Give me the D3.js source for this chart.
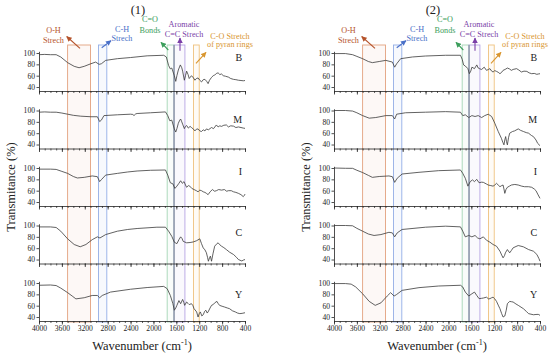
<!DOCTYPE html>
<html>
<head>
<meta charset="utf-8">
<script src="https://cdn.jsdelivr.net/npm/d3@7"></script>
<style>
  body { margin: 0; background: #fff; }
  svg { display: block; font-family: "Liberation Serif", "DejaVu Serif", serif; }
</style>
</head>
<body>
<script>
// sample names and tick labels
const samples = ["B", "M", "I", "C", "Y"];
const panelTitles = ["(1)", "(2)"];
const wavenumberTicks = [4000, 3600, 3200, 2800, 2400, 2000, 1600, 1200, 800, 400];
const transTicks = [40, 60, 80, 100];

// highlighted regions (cm-1)
const bandNames = ["O-H", "C-H", "C=O", "Aromatic", "C-O"];
const bandFrom = [3500, 2960, 1760, 1640, 1300];
const bandTo = [3100, 2815, 1640, 1450, 1200];
const bandLabels = [["O-H", "Strech"], ["C-H", "Strech"], ["C=O", "Bonds"], ["Aromatic", "C=C Strech"], ["C-O Stretch", "of pyran rings"]];

// spectra [wavenumber, transmittance %], panel (1)
const p1B = [[4000,97],[3900,97.5],[3800,97],[3700,97],[3620,93],[3500,83],[3385,76.5],[3300,74],[3210,76.5],[3095,81],[3010,84],[2950,80],[2910,81],[2835,87],[2630,90],[2400,92],[2110,95],[1820,96],[1775,93],[1735,78],[1705,72],[1680,73.5],[1635,60],[1610,50],[1590,60],[1565,70],[1530,79],[1505,74],[1490,68],[1460,52],[1440,60],[1420,68],[1395,62],[1375,55],[1335,60],[1300,56],[1275,52],[1250,55],[1220,56],[1190,52],[1160,49],[1130,53],[1100,53.5],[1070,50],[1045,46],[1020,52],[985,57],[955,60],[930,61],[900,64],[870,65],[840,62],[810,63],[780,60],[740,59],[690,57.5],[650,55],[600,53.5],[560,53],[515,52],[470,51.5],[430,51],[400,51.5]];
const p1M = [[4000,97],[3900,97.5],[3800,97],[3700,97],[3600,95.5],[3500,93.5],[3400,91.5],[3270,90],[3095,89],[2980,89],[2940,80.5],[2910,83],[2865,91],[2630,92.4],[2400,93.5],[2360,93],[2340,91],[2310,94],[2285,94.7],[2050,96],[1790,97.5],[1750,91],[1715,82],[1680,83],[1635,67.5],[1610,62],[1590,68],[1565,77.5],[1540,83],[1525,85],[1505,80],[1490,76],[1460,68],[1440,72],[1420,73.5],[1390,69],[1360,72],[1335,70],[1300,67],[1275,64],[1250,67],[1220,67.5],[1190,64],[1160,63],[1130,66],[1100,64],[1075,67.5],[1040,66],[985,70],[950,68],[900,74.5],[870,71],[840,73],[810,72],[770,74],[725,74.5],[690,71],[650,73],[600,72.4],[560,70],[515,71],[470,70],[430,69],[400,68.5]];
const p1I = [[4000,98],[3800,98],[3700,97.5],[3600,94],[3500,90.5],[3400,85],[3330,82.4],[3210,83.5],[3070,86],[2980,84.7],[2940,76],[2905,80],[2835,87.5],[2630,90.5],[2450,93],[2285,94.7],[2050,96],[1790,96.5],[1750,87.5],[1705,74],[1660,72],[1625,64],[1590,68],[1555,73],[1525,77.5],[1495,73],[1465,76],[1440,70],[1420,66],[1390,69],[1365,68],[1330,64],[1290,62],[1250,60],[1220,58],[1190,61],[1160,60],[1130,58],[1100,57],[1070,55],[1045,53],[1010,58],[970,62],[930,59],[900,60],[860,62],[810,61],[760,62],[720,59],[690,60],[640,60],[600,58],[560,57],[515,55.3],[470,53],[430,49.5],[410,52],[400,54]];
const p1C = [[4000,97.5],[3800,97.5],[3700,96.5],[3620,90],[3500,76.5],[3385,66.5],[3280,62.5],[3180,66.5],[3070,75],[2980,80],[2935,78],[2835,84],[2630,90],[2450,93],[2285,94.7],[1940,97],[1790,97],[1735,90],[1680,81],[1635,70.5],[1590,68],[1555,75],[1525,80],[1500,77],[1480,72],[1420,69.5],[1360,70],[1305,71],[1250,73],[1190,76.5],[1160,68],[1130,60.5],[1100,57],[1075,52],[1055,44],[1040,37],[1020,43],[1005,46],[985,37],[960,50],[930,63.5],[900,67],[870,69.5],[840,66],[810,63.5],[770,61],[725,57.5],[670,53],[600,48.8],[550,44],[515,40],[470,38],[455,37.5],[430,39],[400,40]];
const p1Y = [[4000,96],[3800,96.5],[3700,95.5],[3620,91],[3500,83],[3420,77],[3355,72],[3210,74],[3070,78],[2980,78],[2940,74],[2895,78],[2750,84],[2400,89],[2110,92],[1820,94],[1760,90],[1705,78],[1660,63.5],[1635,52],[1610,56],[1590,60.6],[1555,69],[1525,63.5],[1490,71],[1470,66],[1455,60.6],[1420,66.5],[1395,64],[1375,62],[1335,63.5],[1310,60],[1290,54.7],[1245,49],[1220,40],[1200,46],[1180,49],[1155,42],[1130,44],[1105,50],[1085,52],[1060,47],[1045,49],[1010,56],[985,60.6],[955,62],[930,65],[890,67.6],[870,64],[845,60.6],[800,59],[755,57.6],[710,56],[670,54.7],[620,51],[570,49],[530,47],[490,46],[450,46.5],[400,47.6]];

// panel (2)
const p2B = [[4000,99],[3800,99],[3675,97],[3600,94],[3500,90],[3400,85],[3330,83],[3210,85],[3095,87],[2980,84],[2940,75],[2905,81],[2835,90],[2630,93],[2400,94.7],[2050,96],[1790,96],[1760,89],[1735,79],[1705,77],[1660,72.4],[1635,63.5],[1610,68],[1590,75],[1545,72.4],[1505,79],[1480,73.5],[1450,72],[1420,71],[1375,75],[1335,69.4],[1300,71],[1275,72.4],[1245,68],[1220,66.5],[1190,69],[1160,67.6],[1130,66],[1100,63.5],[1070,66],[1045,69.4],[1010,71],[970,73.5],[935,72],[900,69.4],[870,71],[810,72.4],[770,70],[725,66.5],[680,68],[630,67.6],[590,65],[545,63.5],[500,64],[455,62.4],[430,63],[400,63.5]];
const p2M = [[4000,100],[3800,100],[3675,99],[3600,96],[3500,91],[3385,86.5],[3270,87.6],[3095,91],[2980,91],[2940,85],[2905,93.5],[2750,96],[2400,97],[2050,98],[1790,97],[1750,91],[1705,92.4],[1645,87.6],[1590,91],[1535,89.4],[1480,91],[1420,87.6],[1365,91],[1305,93.5],[1245,89.4],[1190,77.6],[1130,63],[1075,51],[1050,44],[1030,39.4],[1015,48],[1000,54],[985,45],[970,39.4],[950,52],[930,60],[880,63],[845,64],[780,67.6],[740,65],[690,63],[640,61],[600,60],[550,56],[515,54],[470,48],[440,42],[400,38]];
const p2I = [[4000,100],[3800,99.5],[3675,99.4],[3600,96],[3500,92],[3400,87],[3330,83.5],[3210,85],[3040,86],[2980,84.7],[2940,74.7],[2895,82],[2810,89.4],[2515,92.4],[2170,95.3],[1790,96.5],[1750,90.6],[1705,81.8],[1660,68],[1620,76],[1580,79],[1545,76],[1505,80],[1465,74],[1420,75],[1390,74.7],[1340,72],[1305,70],[1260,69],[1220,68],[1190,70],[1160,73],[1130,70],[1100,67],[1070,69],[1045,70],[1030,63],[1015,55.3],[995,62],[970,66],[935,68],[900,70],[840,71],[780,70],[720,68],[670,67],[600,67],[545,66],[500,63],[470,60],[440,54],[400,46.5]];
const p2C = [[4000,100],[3800,100],[3675,99.5],[3600,95],[3500,90],[3400,85],[3300,82.4],[3180,84],[3040,88],[2980,87],[2940,80],[2895,87],[2810,93],[2400,97],[2050,98.8],[1790,97.6],[1750,90],[1705,80],[1645,82.4],[1590,80],[1535,82.4],[1490,78],[1450,76.5],[1390,80],[1335,74],[1275,70.6],[1220,66.5],[1160,63.5],[1100,54.7],[1070,48],[1045,43],[1020,47],[1005,51.8],[970,57.6],[930,51.8],[900,56],[870,60.6],[820,63],[780,64.7],[690,62.4],[600,57.6],[515,54.7],[455,49],[420,42],[400,37]];
const p2Y = [[4000,99],[3800,99],[3700,98],[3620,93],[3500,81],[3385,67.6],[3280,60.6],[3180,65],[3070,77],[3010,83],[2950,77],[2910,79.4],[2810,87],[2515,91.8],[2170,94.7],[1790,96],[1750,93],[1705,84],[1645,77],[1590,81],[1545,84],[1505,78],[1465,72.4],[1420,73],[1390,73.5],[1335,75],[1300,72],[1275,72.4],[1245,74],[1220,75],[1190,72],[1160,67.6],[1130,61],[1100,54.7],[1070,46],[1045,40],[1015,41.8],[990,52],[970,63.5],[930,67.6],[900,67],[870,66.5],[820,63],[780,60.6],[690,54.7],[640,50],[600,46],[515,44],[470,44.5],[430,44.7],[400,43]];

const panel1 = [p1B, p1M, p1I, p1C, p1Y];
const panel2 = [p2B, p2M, p2I, p2C, p2Y];

// layout
const plotW = 206, rowTop = 51.3, rowStep = 57.5, rowH = 39.7;
const bandTop = 45, bandBottom = 322;
const bandStroke = ["#e3a27f", "#93aee6", "#a5d6b5", "#b6a3e3", "#efc27e"];
const textColor = ["#b5532b", "#4a70c8", "#3c9e5c", "#7b3fa8", "#d9962f"];
// annotation placement, pixels relative to panel left edge
const noteX = [14.5, 83, 111, 145, 191];
const noteY = [[33, 42.5], [31.7, 40.7], [21.5, 32.5], [27, 36.5], [39, 47]];
const arrowFrom = [[41, 48.3], [62.7, 47.7], [129.3, 50], [141, 50.7], [157, 63.3]];
const arrowTo = [[27.7, 36.5], [72, 40.7], [122, 42.3], [141, 38], [167, 52.3]];
const labelAt = [86, 78, 88, 82, 73];

const svg = d3.select("body").append("svg")
  .attr("width", 550)
  .attr("height", 360);

svg.append("rect").attr("width", 550).attr("height", 360).attr("fill", "#fff");

const defs = svg.append("defs");
textColor.forEach((c, i) => {
  defs.append("marker")
    .attr("id", "arr" + i)
    .attr("viewBox", "0 0 10 10")
    .attr("refX", 9).attr("refY", 5)
    .attr("markerWidth", 5).attr("markerHeight", 5)
    .attr("orient", "auto")
    .append("path")
    .attr("d", "M0,0 L10,5 L0,10 z")
    .attr("fill", c);
});

[panel1, panel2].forEach((spectra, pi) => {
  const x0 = pi === 0 ? 39 : 334;
  const x = d3.scaleLinear().domain([4000, 400]).range([x0, x0 + plotW]);
  const g = svg.append("g");

  // title
  g.append("text")
    .attr("x", x0 + plotW / 2 - 4)
    .attr("y", 14)
    .attr("text-anchor", "middle")
    .attr("font-size", 12.5)
    .attr("fill", "#222")
    .text(panelTitles[pi]);

  // highlight bands
  bandNames.forEach((b, i) => {
    g.append("rect")
      .attr("x", x(bandFrom[i]))
      .attr("y", bandTop)
      .attr("width", x(bandTo[i]) - x(bandFrom[i]))
      .attr("height", bandBottom - bandTop)
      .attr("fill", bandStroke[i])
      .attr("fill-opacity", 0.07)
      .attr("stroke", bandStroke[i])
      .attr("stroke-width", 0.9);
  });
  g.append("line")
    .attr("x1", x(1640)).attr("x2", x(1640))
    .attr("y1", bandTop).attr("y2", bandBottom)
    .attr("stroke", "#8e99a6")
    .attr("stroke-width", 1.3);

  // subplots
  spectra.forEach((data, i) => {
    const top = rowTop + i * rowStep;
    const y = d3.scaleLinear().domain([33, 103]).range([top + rowH, top]);

    const ax = g.append("g")
      .attr("transform", `translate(0,${top + rowH})`)
      .call(d3.axisBottom(x).tickValues(d3.range(4000, 399, -100)).tickSize(2).tickSizeOuter(0).tickFormat(""));
    ax.selectAll("line").attr("stroke", "#222").attr("stroke-width", 0.7);
    ax.select(".domain").attr("stroke", "#222").attr("stroke-width", 0.8);

    const axM = g.append("g")
      .attr("transform", `translate(0,${top + rowH})`)
      .call(d3.axisBottom(x).tickValues(wavenumberTicks).tickSize(3.5).tickSizeOuter(0)
        .tickFormat(i === samples.length - 1 ? d3.format("d") : ""));
    axM.select(".domain").remove();
    axM.selectAll("line").attr("stroke", "#222").attr("stroke-width", 0.8);
    axM.selectAll("text")
      .attr("font-family", "Liberation Serif, serif")
      .attr("font-size", 7.6)
      .attr("fill", "#222")
      .attr("dy", "0.5em");

    const ay = g.append("g")
      .attr("transform", `translate(${x0},0)`)
      .call(d3.axisLeft(y).tickValues(transTicks).tickSize(2.5).tickSizeOuter(0).tickPadding(1.5));
    ay.select(".domain").attr("stroke", "#222").attr("stroke-width", 0.8);
    ay.selectAll("line").attr("stroke", "#222").attr("stroke-width", 0.8);
    ay.selectAll("text")
      .attr("font-family", "Liberation Serif, serif")
      .attr("font-size", 7.6)
      .attr("fill", "#222");

    g.append("path")
      .datum(data)
      .attr("fill", "none")
      .attr("stroke", "#3a3a3a")
      .attr("stroke-width", 0.8)
      .attr("stroke-linejoin", "round")
      .attr("d", d3.line().x(d => x(d[0])).y(d => y(d[1])));

    g.append("text")
      .attr("x", x(450))
      .attr("y", y(labelAt[i]))
      .attr("text-anchor", "end")
      .attr("font-size", 10)
      .attr("fill", "#222")
      .text(samples[i]);
  });

  // annotations
  bandLabels.forEach((lines, i) => {
    lines.forEach((t, k) => {
      g.append("text")
        .attr("x", x0 + noteX[i])
        .attr("y", noteY[i][k])
        .attr("text-anchor", "middle")
        .attr("font-size", 8.2)
        .attr("fill", textColor[i])
        .text(t);
    });
    g.append("line")
      .attr("x1", x0 + arrowFrom[i][0]).attr("y1", arrowFrom[i][1])
      .attr("x2", x0 + arrowTo[i][0]).attr("y2", arrowTo[i][1])
      .attr("stroke", textColor[i])
      .attr("stroke-width", 1.1)
      .attr("marker-end", `url(#arr${i})`);
  });

  // axis titles
  g.append("text")
    .attr("x", x0 + plotW / 2)
    .attr("y", 350)
    .attr("text-anchor", "middle")
    .attr("font-size", 12.5)
    .attr("fill", "#222")
    .html('Wavenumber (cm<tspan dy="-5" font-size="8">-1</tspan><tspan dy="5">)</tspan>');

  g.append("text")
    .attr("transform", `translate(${x0 - 28},187) rotate(-90)`)
    .attr("text-anchor", "middle")
    .attr("dy", "0.35em")
    .attr("font-size", 12.5)
    .attr("fill", "#222")
    .text("Transmitance (%)");
});
</script>
</body>
</html>
